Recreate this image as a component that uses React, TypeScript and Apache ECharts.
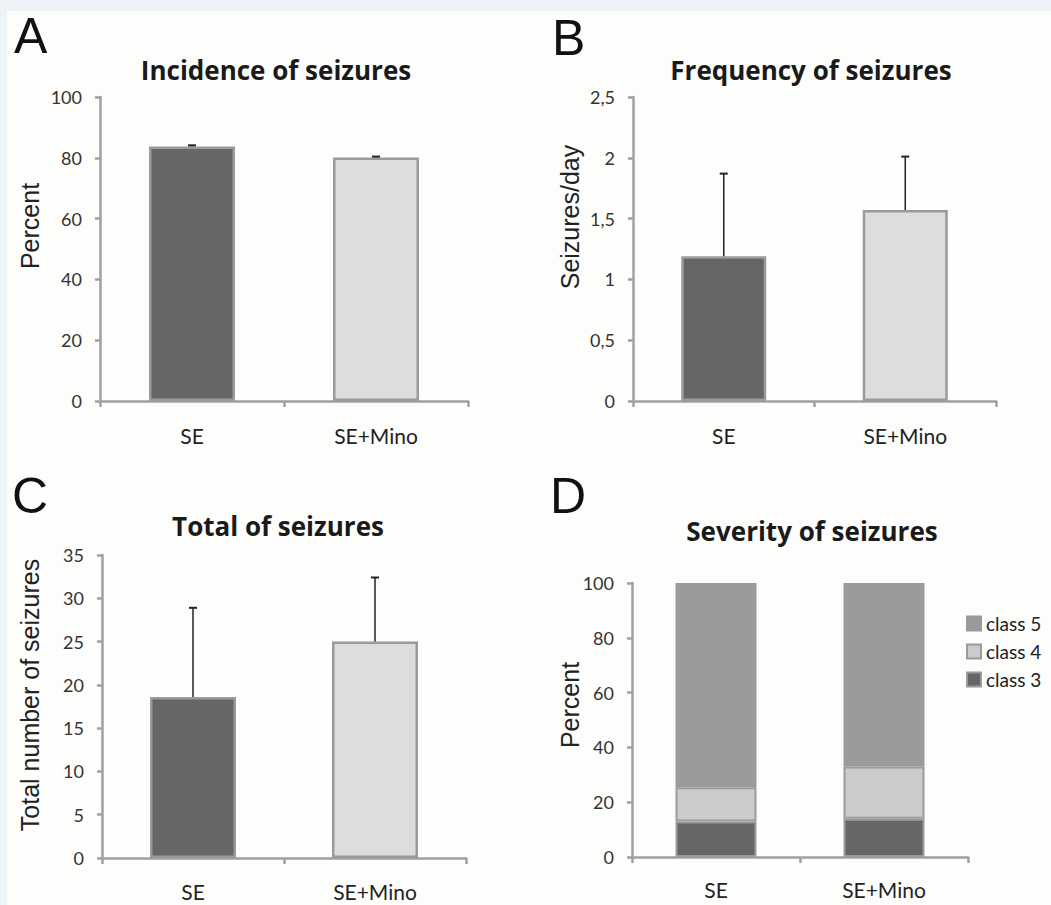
import React, { useEffect, useRef } from "react";
import * as echarts from "echarts";

const categories = ["SE", "SE+Mino"];
const incidence = [83.7, 80.1];
const incidenceSD = [0.4, 0.3];
const frequency = [1.19, 1.57];
const frequencySD = [0.68, 0.44];
const total = [18.6, 25.0];
const totalSD = [10.3, 7.4];
const class3 = [13, 14];
const class4 = [12.5, 19];
const class5 = [74.5, 67];
const legendNames = ["class 5", "class 4", "class 3"];

const barColors = ["#666666", "#dddddd"];
const axisColor = "#a0a0a0";
const labelFont = "Lato, 'Open Sans', sans-serif";
const titleFont = "'Open Sans', Lato, sans-serif";
const arialFont = "'Liberation Sans', Arial, sans-serif";

function errSeries(idx: number, means: number[], sds: number[]) {
  return {
    type: "custom",
    xAxisIndex: idx,
    yAxisIndex: idx,
    z: 5,
    encode: { x: 0, y: [1, 2] },
    data: means.map((m, i) => [i, m, m + sds[i]]),
    renderItem: (params: any, api: any) => {
      const base = api.coord([api.value(0), api.value(1)]);
      const top = api.coord([api.value(0), api.value(2)]);
      return {
        type: "group",
        children: [
          {
            type: "line",
            shape: { x1: base[0], y1: base[1], x2: base[0], y2: top[1] },
            style: { stroke: "#222", lineWidth: 1.5 },
          },
          {
            type: "line",
            shape: { x1: base[0] - 4, y1: top[1], x2: base[0] + 4, y2: top[1] },
            style: { stroke: "#222", lineWidth: 2 },
          },
        ],
      };
    },
  };
}

function barSeries(idx: number, values: number[], width: number) {
  return {
    type: "bar",
    xAxisIndex: idx,
    yAxisIndex: idx,
    barWidth: width,
    data: values.map((v, i) => ({ value: v, itemStyle: { color: barColors[i] } })),
    itemStyle: { borderColor: "#9a9a9a", borderWidth: 2.5 },
  };
}

export default function App() {
  const ref = useRef<HTMLDivElement>(null);
  useEffect(() => {
    document.body.style.margin = "0";
    const chart = echarts.init(ref.current!, null, { renderer: "svg" });
    const grids = [
      { left: 100, top: 97, width: 368, height: 304 },
      { left: 633, top: 97, width: 363, height: 304 },
      { left: 102, top: 555, width: 364, height: 303 },
      { left: 632, top: 583, width: 336, height: 274 },
    ];
    const xMargins = [24, 24, 23, 22];
    const yAxisCfg = [
      { min: 0, max: 100, interval: 20 },
      { min: 0, max: 2.5, interval: 0.5 },
      { min: 0, max: 35, interval: 5 },
      { min: 0, max: 100, interval: 20 },
    ];
    const letters = [
      { t: "A", x: 14, y: 36 },
      { t: "B", x: 552, y: 38 },
      { t: "C", x: 12, y: 496 },
      { t: "D", x: 550, y: 496 },
    ];
    const names = [
      { t: "Percent", x: 30, y: 226 },
      { t: "Seizures/day", x: 570, y: 217 },
      { t: "Total number of seizures", x: 30, y: 695 },
      { t: "Percent", x: 570, y: 705 },
    ];
    const titles = [
      { text: "Incidence of seizures", left: 276, top: 71 },
      { text: "Frequency of seizures", left: 811, top: 71 },
      { text: "Total of seizures", left: 278, top: 527 },
      { text: "Severity of seizures", left: 812, top: 532 },
    ];
    const option: any = {
      animation: false,
      backgroundColor: "#eef3f8",
      graphic: [
        {
          type: "rect",
          z: -10,
          silent: true,
          shape: { x: 7, y: 11, width: 1044, height: 894 },
          style: { fill: "#fdfdfb" },
        },
        ...letters.map((l) => ({
          type: "text",
          x: l.x,
          y: l.y,
          style: {
            text: l.t,
            font: `50px ${arialFont}`,
            fill: "#111",
            textAlign: "left",
            textVerticalAlign: "middle",
          },
        })),
        ...names.map((n) => ({
          type: "text",
          x: n.x,
          y: n.y,
          rotation: Math.PI / 2,
          style: {
            text: n.t,
            font: `25px ${arialFont}`,
            fill: "#222",
            textAlign: "center",
            textVerticalAlign: "middle",
          },
        })),
      ],
      title: titles.map((t) => ({
        text: t.text,
        left: t.left,
        top: t.top - 14,
        textAlign: "center",
        padding: 0,
        textStyle: { fontFamily: titleFont, fontWeight: "bold", fontSize: 26, color: "#1a1a1a" },
      })),
      legend: {
        orient: "vertical",
        left: 966,
        top: 614,
        padding: 0,
        itemWidth: 14,
        itemHeight: 14,
        itemGap: 9,
        icon: "rect",
        data: legendNames,
        textStyle: { fontFamily: labelFont, fontSize: 19, color: "#222" },
      },
      grid: grids,
      xAxis: grids.map((g, i) => ({
        type: "category",
        gridIndex: i,
        data: categories,
        axisLine: { lineStyle: { color: axisColor, width: 2.5 } },
        axisTick: { show: true, length: 6, lineStyle: { color: axisColor, width: 2.5 } },
        axisLabel: { fontFamily: labelFont, fontSize: 21, color: "#222", margin: xMargins[i] },
      })),
      yAxis: grids.map((g, i) => ({
        type: "value",
        gridIndex: i,
        ...yAxisCfg[i],
        splitLine: { show: false },
        axisLine: { show: true, lineStyle: { color: axisColor, width: 2.5 } },
        axisTick: { show: true, length: 5, lineStyle: { color: axisColor, width: 2.5 } },
        axisLabel: {
          fontFamily: labelFont,
          fontSize: 18,
          color: "#333",
          margin: 18,
          formatter: (v: number) => String(v).replace(".", ","),
        },
      })),
      series: [
        barSeries(0, incidence, 86),
        errSeries(0, incidence, incidenceSD),
        barSeries(1, frequency, 85),
        errSeries(1, frequency, frequencySD),
        barSeries(2, total, 86),
        errSeries(2, total, totalSD),
        {
          name: "class 3",
          type: "bar",
          stack: "sev",
          xAxisIndex: 3,
          yAxisIndex: 3,
          barWidth: 81,
          data: class3,
          itemStyle: { color: "#666666", borderColor: "#9a9a9a", borderWidth: 2 },
        },
        {
          name: "class 4",
          type: "bar",
          stack: "sev",
          xAxisIndex: 3,
          yAxisIndex: 3,
          barWidth: 81,
          data: class4,
          itemStyle: { color: "#cbcbcb", borderColor: "#9a9a9a", borderWidth: 2 },
        },
        {
          name: "class 5",
          type: "bar",
          stack: "sev",
          xAxisIndex: 3,
          yAxisIndex: 3,
          barWidth: 81,
          data: class5,
          itemStyle: { color: "#999a99", borderColor: "#9a9a9a", borderWidth: 2 },
        },
      ],
    };
    chart.setOption(option);
    return () => chart.dispose();
  }, []);
  return <div ref={ref} style={{ width: 1051, height: 905 }} />;
}
